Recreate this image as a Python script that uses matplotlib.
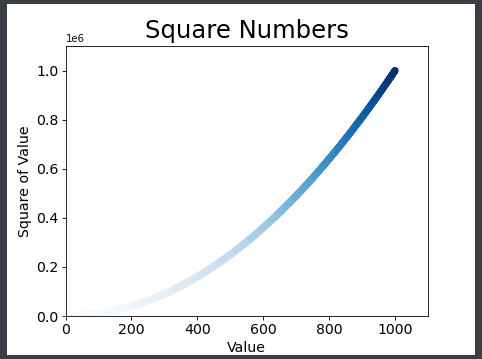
import matplotlib
matplotlib.use('Agg')
import matplotlib.pyplot as plt
from matplotlib.patches import Rectangle

# data: the first thousand integers and their squares
x_values = list(range(1, 1001))
y_values = [x ** 2 for x in x_values]

x_ticks = [0, 200, 400, 600, 800, 1000]
y_ticks = [0, 200000, 400000, 600000, 800000, 1000000]

fig = plt.figure(figsize=(4.82, 3.59), dpi=100, facecolor='#3b3e42')
# white canvas of the screenshot inside the dark frame
fig.add_artist(Rectangle((7 / 482, 4 / 359), 468 / 482, 351 / 359,
                         transform=fig.transFigure, facecolor='white',
                         edgecolor='none', zorder=-10))

ax = fig.add_axes([65.5 / 482, 43 / 359, 362.5 / 482, 270 / 359])
ax.set_zorder(1)
ax.scatter(x_values, y_values, c=y_values, cmap=plt.cm.Blues,
           edgecolor='none', s=26)

ax.set_title('Square Numbers', fontsize=17.5)
ax.set_xlabel('Value', fontsize=10.2, labelpad=2.9)
ax.set_ylabel('Square of Value', fontsize=10.2, labelpad=2.9)
ax.tick_params(axis='both', which='major', labelsize=10.2,
               length=2.6, width=0.6, pad=2.5)
ax.yaxis.get_offset_text().set_fontsize(7.3)
for sp in ax.spines.values():
    sp.set_linewidth(0.6)

ax.set_xticks(x_ticks)
ax.set_yticks(y_ticks)
ax.axis([0, 1100, 0, 1100000])

fig.savefig('out.png', dpi=100, facecolor=fig.get_facecolor())
